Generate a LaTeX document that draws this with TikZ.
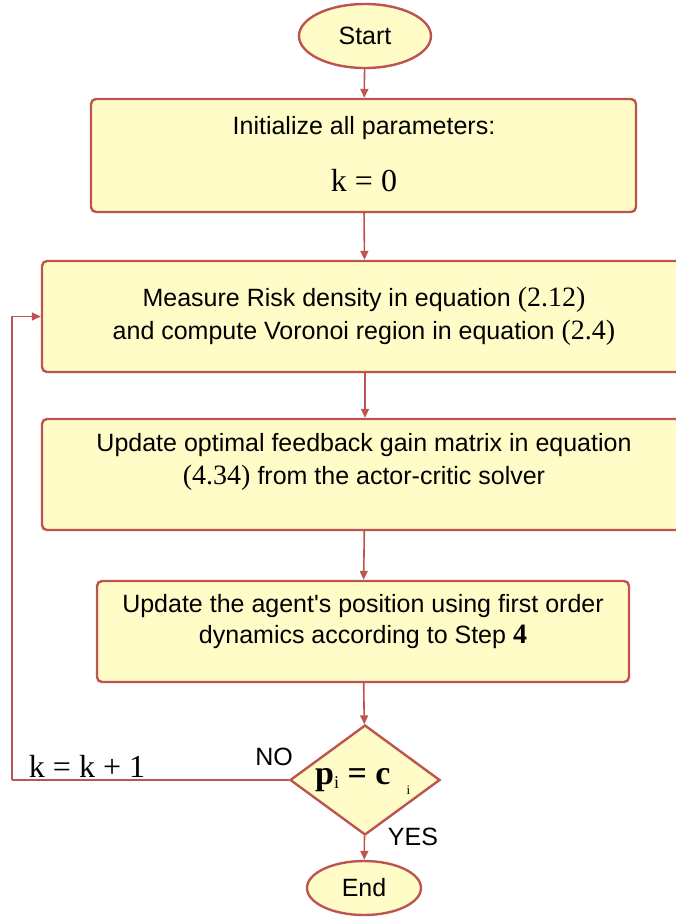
\documentclass[tikz,border=0pt]{standalone}
\usepackage{fontspec}
\setmainfont{Liberation Sans}
\newfontfamily\tms{Liberation Serif}
\usetikzlibrary{shapes.geometric,arrows.meta}
\definecolor{edgecol}{RGB}{190,84,80}
\definecolor{fillcol}{RGB}{255,252,200}
\newcommand{\eqn}[1]{{\tms\fontsize{28}{33}\selectfont #1}}
\begin{document}
\begin{tikzpicture}[x=1pt,y=-1pt,
  every node/.style={font=\fontsize{25}{33}\selectfont},
  terminal/.style={ellipse,draw=edgecol,fill=fillcol,line width=2.4pt,inner sep=0pt},
  procbox/.style={rectangle,rounded corners=5pt,draw=edgecol,fill=fillcol,line width=2.4pt,inner sep=0pt},
  decision/.style={diamond,draw=edgecol,fill=fillcol,line width=2.4pt,inner sep=0pt},
  flow/.style={draw=edgecol,line width=1.6pt,-{Triangle[length=9pt,width=8pt]}},
  loopline/.style={draw=edgecol,line width=1.6pt}
]
\useasboundingbox (0,0) rectangle (675,918);

% terminals
\node[terminal,minimum width=132pt,minimum height=64pt] (start) at (365,36) {Start};
\node[terminal,minimum width=114pt,minimum height=54pt] (end) at (364,888) {End};

% process boxes (frames)
\node[procbox,minimum width=545pt,minimum height=113pt] (init) at (363.5,155.5) {};
\node[procbox,minimum width=646pt,minimum height=111pt] (meas) at (365,316.5) {};
\node[procbox,minimum width=646pt,minimum height=111pt] (opt) at (365,474.5) {};
\node[procbox,minimum width=532pt,minimum height=101pt] (agent) at (363,631.5) {};

% decision
\node[decision,minimum width=150pt,minimum height=110pt] (dec) at (365,780) {};

% box texts
\node (initA) at (364,128) {Initialize all parameters:};
\node (initB) at (364,181) {\tms\fontsize{32}{36}\selectfont k = 0};
\node[align=center] (measT) at (364,316) {Measure Risk density in equation \eqn{(2.12)}\\and compute Voronoi region in equation \eqn{(2.4)}};
\node[align=center] (optT) at (364,462) {Update optimal feedback gain matrix in equation\\\eqn{(4.34)} from the actor-critic solver};
\node[align=center,font=\fontsize{25}{31}\selectfont] (agentT) at (363,622) {Update the agent\textquotesingle s position using first order\\dynamics according to Step {\tms\bfseries\fontsize{28}{31}\selectfont 4}};
\node[anchor=west,inner sep=0pt] (decT) at (315,781) {\tms\fontsize{34}{38}\selectfont\textbf{p}\raisebox{-4pt}{\fontsize{18}{20}\selectfont i} \textbf{=} \textbf{c}\hspace{16pt}\raisebox{-10pt}{\fontsize{13}{14}\selectfont i}};

% connectors
\draw[flow] (start) -- (init);
\draw[flow] (init) -- (meas);
\draw[flow] (meas) -- (opt);
\draw[flow] (opt) -- (agent);
\draw[flow] (agent) -- (dec);
\draw[flow] (dec) -- (end);
\coordinate (bend) at (12,780);
\draw[loopline] (dec.west) -- (bend);
\draw[flow] (bend) |- (meas.west);

% branch labels
\node (inc) at (87,766) {\tms\fontsize{32}{36}\selectfont k = k + 1};
\node (no) at (274,757) {NO};
\node (yes) at (413,837) {YES};
\end{tikzpicture}
\end{document}
